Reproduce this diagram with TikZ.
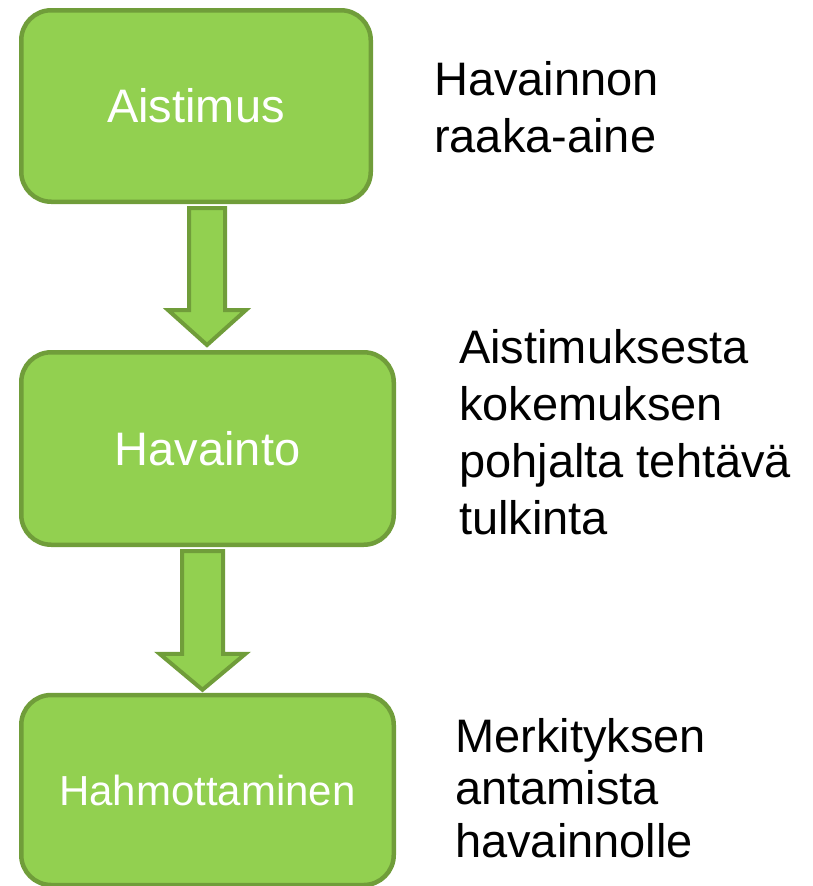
\documentclass[tikz,border=0pt]{standalone}
\usepackage{fontspec}
\setmainfont{Liberation Sans}
\usetikzlibrary{calc}
\definecolor{boxfill}{RGB}{146,208,80}
\definecolor{boxline}{RGB}{112,157,58}
\tikzset{
  stagebox/.style={draw=boxline, fill=boxfill, line width=4.5pt, rounded corners=30pt,
    text=white, inner sep=0pt, font=\fontsize{47}{56}\selectfont},
  barrow/.style={draw=boxline, fill=boxfill, line width=4pt, line join=miter},
  note/.style={anchor=base west, inner sep=0pt, text=black}
}
% #1 start coord, #2 tip coord, #3 shaft half width, #4 head half width, #5 head length
\newcommand{\blockarrow}[5]{%
  \draw[barrow] ($(#1)+(-#3,0)$) -- ($(#1)+(#3,0)$) -- ($(#1 |- #2)+(#3,-#5)$)
    -- ($(#1 |- #2)+(#4,-#5)$) -- (#1 |- #2) -- ($(#1 |- #2)+(-#4,-#5)$)
    -- ($(#1 |- #2)+(-#3,-#5)$) -- cycle;}
\begin{document}
\begin{tikzpicture}[x=1pt,y=-1pt]
\useasboundingbox (0,0) rectangle (813,886);
\node[stagebox, minimum width=349.5pt, minimum height=191.5pt] (a) at (196,106) {Aistimus};
\node[stagebox, minimum width=372.5pt, minimum height=192.5pt] (b) at (207.5,448.5) {Havainto};
\node[stagebox, minimum width=372.5pt, minimum height=190pt, font=\fontsize{42}{50}\selectfont] (c) at (207.5,790) {Hahmottaminen};

\coordinate (s1) at ([xshift=11pt,yshift=-4pt]a.south);
\coordinate (t1) at ([yshift=5pt]b.north);
\blockarrow{s1}{t1}{18}{39}{35}
\coordinate (s2) at ([xshift=-5pt,yshift=-4pt]b.south);
\coordinate (t2) at ([yshift=3pt]c.north);
\blockarrow{s2}{t2}{20.5}{43}{36}

\node[note] (n1) at (434,95) {\fontsize{47}{57}\selectfont\begin{tabular}[t]{@{}l@{}}Havainnon\\raaka-aine\end{tabular}};
\node[note] (n2) at (459,363) {\fontsize{47}{57}\selectfont\begin{tabular}[t]{@{}l@{}}Aistimuksesta\\kokemuksen\\pohjalta tehtävä\\tulkinta\end{tabular}};
\node[note] (n3) at (455,752) {\fontsize{47}{52.5}\selectfont\begin{tabular}[t]{@{}l@{}}Merkityksen\\antamista\\havainnolle\end{tabular}};
\end{tikzpicture}
\end{document}
